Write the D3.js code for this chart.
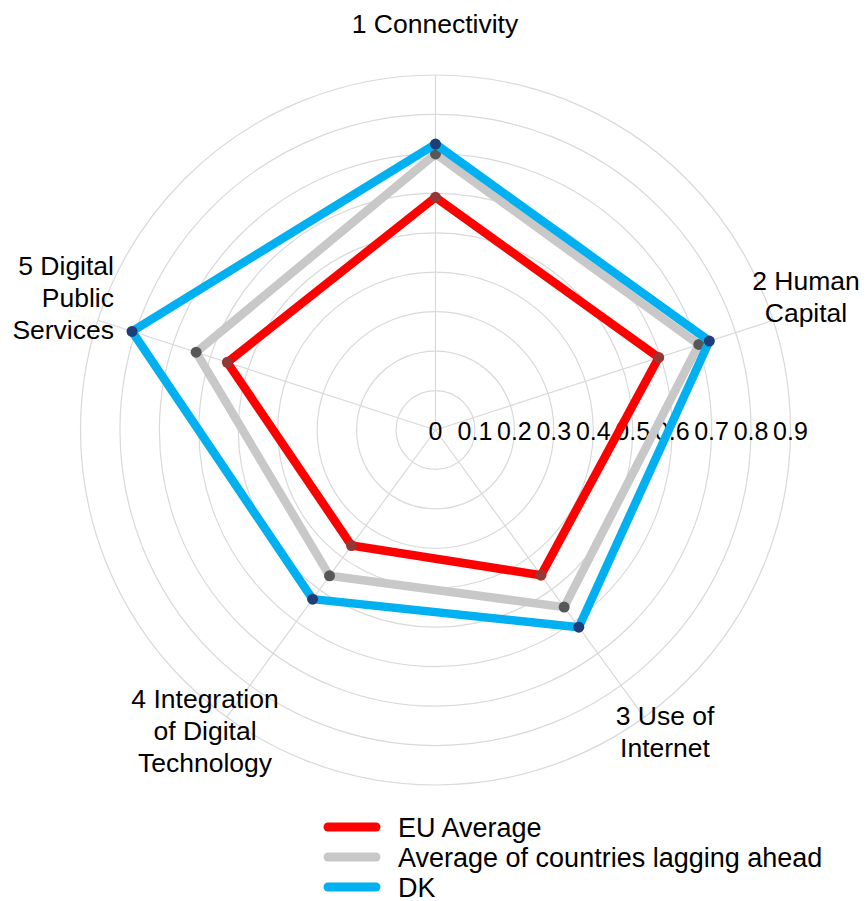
<!DOCTYPE html>
<html>
<head>
<meta charset="utf-8">
<script src="https://cdn.jsdelivr.net/npm/d3@7/dist/d3.min.js"></script>
<style>
  html, body { margin: 0; padding: 0; background: #fff; }
  svg { display: block; font-family: "Liberation Sans", Arial, sans-serif; }
</style>
</head>
<body>
<svg id="chart" width="867" height="901"></svg>
<script>
// Radar chart data: five DESI dimensions
const dimensions = [
  ["1 Connectivity"],
  ["2 Human", "Capital"],
  ["3 Use of", "Internet"],
  ["4 Integration", "of Digital", "Technology"],
  ["5 Digital", "Public", "Services"]
];
const seriesNames = ["EU Average", "Average of countries lagging ahead", "DK"];
const euAverage   = [0.590, 0.595, 0.455, 0.362, 0.555];
const laggingAvg  = [0.700, 0.702, 0.555, 0.457, 0.638];
const dk          = [0.725, 0.730, 0.618, 0.530, 0.809];
const tickValues  = [0, 0.1, 0.2, 0.3, 0.4, 0.5, 0.6, 0.7, 0.8, 0.9];
const tickLabels  = ["0", "0.1", "0.2", "0.3", "0.4", "0.5", "0.6", "0.7", "0.8", "0.9"];

const series = [
  { name: seriesNames[0], values: euAverage,  line: "#ff0000", dot: "#953735" },
  { name: seriesNames[1], values: laggingAvg, line: "#c8c8c8", dot: "#575757" },
  { name: seriesNames[2], values: dk,         line: "#00b0f0", dot: "#1f3e78" }
];

const svg = d3.select("#chart");
const cx = 435.5, cy = 430, R = 355;
const r = d3.scaleLinear().domain([0, 0.9]).range([0, R]);
const angle = d3.scaleLinear().domain([0, dimensions.length]).range([0, 2 * Math.PI]);

const g = svg.append("g").attr("transform", `translate(${cx},${cy})`);
const gridColor = "#d9d9d9";

// circular gridlines
g.selectAll("circle.grid")
  .data(tickValues.slice(1))
  .join("circle")
  .attr("class", "grid")
  .attr("r", d => r(d))
  .attr("fill", "none")
  .attr("stroke", gridColor)
  .attr("stroke-width", 1.2);

// spokes
g.selectAll("line.spoke")
  .data(dimensions)
  .join("line")
  .attr("class", "spoke")
  .attr("x1", 0).attr("y1", 0)
  .attr("x2", (d, i) => R * Math.sin(angle(i)))
  .attr("y2", (d, i) => -R * Math.cos(angle(i)))
  .attr("stroke", gridColor)
  .attr("stroke-width", 1.2);

// radial tick labels along the horizontal
g.selectAll("text.tick")
  .data(tickValues)
  .join("text")
  .attr("class", "tick")
  .attr("x", d => r(d))
  .attr("y", 10)
  .attr("text-anchor", "middle")
  .attr("font-size", 25)
  .attr("fill", "#000")
  .text((d, i) => tickLabels[i]);

// series polygons
const radialLine = d3.lineRadial()
  .angle((d, i) => angle(i))
  .radius(d => r(d))
  .curve(d3.curveLinearClosed);

series.forEach(s => {
  g.append("path")
    .datum(s.values)
    .attr("d", radialLine)
    .attr("fill", "none")
    .attr("stroke", s.line)
    .attr("stroke-width", 8.5)
    .attr("stroke-linejoin", "round");
  g.selectAll(null)
    .data(s.values)
    .join("circle")
    .attr("cx", (d, i) => r(d) * Math.sin(angle(i)))
    .attr("cy", (d, i) => -r(d) * Math.cos(angle(i)))
    .attr("r", 5.5)
    .attr("fill", s.dot);
});

// axis category labels
const labelLayout = [
  { x: 435, y: 33,  anchor: "middle" },
  { x: 806, y: 290, anchor: "middle" },
  { x: 665, y: 725, anchor: "middle" },
  { x: 205, y: 708, anchor: "middle" },
  { x: 114, y: 275, anchor: "end" }
];
const lineHeight = 32;
dimensions.forEach((lines, i) => {
  const L = labelLayout[i];
  const t = svg.append("text")
    .attr("text-anchor", L.anchor)
    .attr("font-size", 26.5)
    .attr("fill", "#000");
  lines.forEach((ln, j) => {
    t.append("tspan")
      .attr("x", L.x)
      .attr("y", L.y + j * lineHeight)
      .text(ln);
  });
});

// legend
const legend = svg.append("g").attr("transform", "translate(324,827)");
const item = legend.selectAll("g")
  .data(series)
  .join("g")
  .attr("transform", (d, i) => `translate(0,${i * 30})`);
item.append("line")
  .attr("x1", 4).attr("x2", 52)
  .attr("stroke", d => d.line)
  .attr("stroke-width", 9)
  .attr("stroke-linecap", "round");
item.append("text")
  .attr("x", 74)
  .attr("y", 9.5)
  .attr("font-size", 27)
  .attr("fill", "#000")
  .text(d => d.name);
</script>
</body>
</html>
